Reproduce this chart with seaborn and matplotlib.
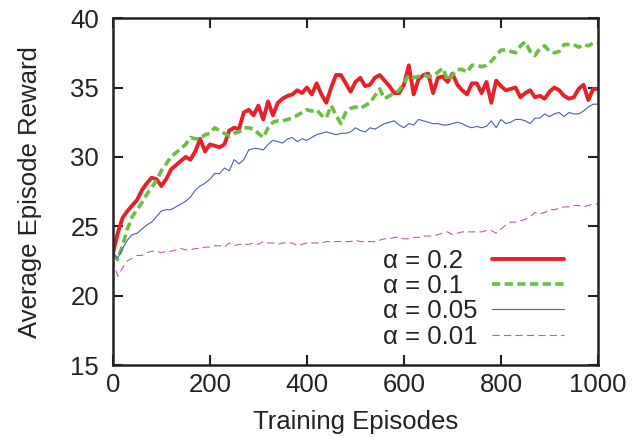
import numpy as np
import pandas as pd
import matplotlib
matplotlib.use("Agg")
import matplotlib.pyplot as plt
import seaborn as sns

episodes = list(range(0, 1001, 10))

reward_a02 = [23.0, 24.5, 25.6, 26.1, 26.5, 26.9, 27.6, 28.1, 28.5, 28.4,
              27.9, 28.4, 29.1, 29.4, 29.7, 30.0, 29.8, 30.4, 31.3, 30.4,
              30.9, 30.8, 30.7, 30.9, 31.9, 32.1, 32.0, 33.2, 33.4, 33.0,
              33.7, 32.7, 34.0, 33.0, 33.9, 34.2, 34.4, 34.5, 34.8, 34.6,
              35.0, 34.5, 35.3, 34.5, 33.9, 35.0, 35.9, 35.9, 35.3, 34.7,
              35.4, 35.7, 35.1, 35.2, 35.7, 35.9, 35.5, 35.1, 34.6, 34.6,
              35.2, 36.6, 34.5, 35.6, 35.9, 36.0, 34.6, 35.7, 35.8, 35.4,
              36.0, 35.2, 34.8, 34.5, 35.3, 35.3, 34.6, 35.4, 33.9, 35.5,
              35.1, 34.8, 34.9, 35.0, 34.3, 34.6, 34.8, 34.3, 34.4, 34.2,
              34.7, 35.0, 34.8, 34.4, 34.2, 34.3, 34.9, 35.2, 34.1, 34.9,
              34.9]

reward_a01 = [23.0, 22.6, 23.6, 24.8, 25.7, 26.2, 26.7, 27.3, 27.8, 28.3,
              29.0, 29.5, 30.0, 30.3, 30.6, 30.9, 31.4, 31.3, 31.3, 31.6,
              31.7, 32.1, 31.9, 31.7, 31.5, 31.7, 31.8, 32.1, 32.1, 32.0,
              31.7, 31.4, 32.1, 32.5, 32.6, 32.6, 32.7, 32.8, 33.0, 33.2,
              33.4, 33.3, 33.4, 33.0, 32.8, 33.7, 33.0, 32.4, 33.2, 33.5,
              33.6, 33.5, 33.7, 33.9, 34.4, 34.9, 34.2, 34.4, 34.6, 34.8,
              35.3, 35.9, 35.7, 35.8, 35.9, 35.8, 35.8, 36.1, 36.4, 35.5,
              35.9, 36.3, 36.3, 36.1, 36.6, 36.6, 36.5, 36.6, 36.9, 37.3,
              37.7, 37.7, 37.6, 37.5, 38.0, 38.3, 37.6, 37.3, 37.8, 38.0,
              37.6, 37.5, 37.6, 38.1, 38.1, 38.1, 37.9, 38.1, 38.0, 38.2,
              38.2]

reward_a005 = [23.1, 22.7, 23.4, 24.0, 24.4, 24.5, 24.8, 25.1, 25.3, 25.7,
               26.1, 26.2, 26.2, 26.4, 26.6, 26.8, 27.1, 27.6, 27.9, 28.1,
               28.4, 28.8, 28.8, 29.2, 29.0, 29.8, 29.5, 29.8, 30.5, 30.6,
               30.6, 30.5, 30.9, 31.2, 31.1, 31.0, 31.3, 31.4, 31.1, 31.3,
               31.2, 31.4, 31.6, 31.7, 31.8, 31.7, 31.6, 31.7, 31.7, 31.8,
               32.1, 31.9, 31.8, 32.1, 32.0, 32.2, 32.4, 32.5, 32.6, 32.3,
               32.1, 32.4, 32.3, 32.7, 32.6, 32.5, 32.4, 32.4, 32.3, 32.3,
               32.4, 32.5, 32.4, 32.2, 32.1, 32.2, 32.1, 32.2, 32.6, 32.1,
               32.7, 32.4, 32.5, 32.7, 32.7, 32.6, 32.4, 32.8, 32.8, 33.1,
               32.9, 33.1, 33.2, 32.9, 33.2, 33.1, 33.1, 33.3, 33.6, 33.8,
               33.8]

reward_a001 = [22.6, 21.4, 22.0, 22.5, 22.7, 22.9, 22.9, 23.1, 23.2, 23.2,
               23.1, 23.2, 23.2, 23.3, 23.4, 23.3, 23.3, 23.4, 23.4, 23.5,
               23.5, 23.6, 23.6, 23.5, 23.8, 23.6, 23.7, 23.7, 23.7, 23.8,
               23.7, 23.9, 23.8, 23.8, 23.7, 23.8, 23.8, 23.8, 23.6, 23.7,
               23.8, 23.8, 23.8, 23.8, 23.9, 23.9, 23.9, 23.9, 23.9, 23.9,
               24.0, 23.9, 23.9, 23.9, 23.9, 24.0, 24.1, 24.1, 24.2, 24.2,
               24.1, 24.1, 24.2, 24.2, 24.3, 24.3, 24.3, 24.4, 24.5, 24.6,
               24.4, 24.5, 24.6, 24.6, 24.6, 24.6, 24.6, 24.7, 24.7, 24.5,
               24.8, 25.1, 25.3, 25.3, 25.4, 25.5, 25.7, 26.0, 25.9, 26.0,
               26.2, 26.2, 26.3, 26.4, 26.4, 26.5, 26.5, 26.4, 26.5, 26.6,
               26.6]

# trailing figure spaces keep the legend labels left-aligned
labels = ["α = 0.2\u2007", "α = 0.1\u2007", "α = 0.05", "α = 0.01"]
x_ticks = [0, 200, 400, 600, 800, 1000]
y_ticks = [15, 20, 25, 30, 35, 40]

sns.set_theme(style="ticks")
plt.rcParams['font.family'] = ['Liberation Sans', 'DejaVu Sans']

fig = plt.figure(figsize=(6.41, 4.42), dpi=100)
ax = fig.add_axes([0.176, 0.174, 0.757, 0.785])

series = [reward_a02, reward_a01, reward_a005, reward_a001]
styles = [
    dict(color="#e8202a", lw=2.8, ls="-"),
    dict(color="#6abf43", lw=2.6, ls=(0, (2.3, 1.2))),
    dict(color="#4461b2", lw=0.8, ls="-"),
    dict(color="#c455b5", lw=0.8, ls=(0, (6.5, 3.8))),
]
for vals, lab, st in zip(series, labels, styles):
    df = pd.DataFrame({"episode": episodes, "reward": vals})
    sns.lineplot(data=df, x="episode", y="reward", ax=ax, label=lab,
                 color=st["color"], linewidth=st["lw"], linestyle=st["ls"])

ax.set_xlim(0, 1000)
ax.set_ylim(15, 40)
ax.set_xticks(x_ticks)
ax.set_yticks(y_ticks)
ax.set_xlabel("Training Episodes", fontsize=18.5, color="#222222", labelpad=9)
ax.set_ylabel("Average Episode Reward", fontsize=18.5, color="#222222", labelpad=20)
ax.tick_params(direction="in", length=7, width=1.5, labelsize=18.5,
               top=True, right=True, colors="#222222")
ax.tick_params(axis="y", pad=10)
ax.tick_params(axis="x", pad=6)
for sp in ax.spines.values():
    sp.set_linewidth(1.8)
    sp.set_color("#222222")

leg = ax.legend(loc="upper left", frameon=False, markerfirst=False,
                fontsize=18.5, handlelength=2.8, labelspacing=0.05,
                bbox_to_anchor=(0.557, 0.335), borderpad=0, borderaxespad=0,
                handletextpad=0.55)
for t in leg.get_texts():
    t.set_color("#222222")

fig.savefig("out.png", dpi=100)
